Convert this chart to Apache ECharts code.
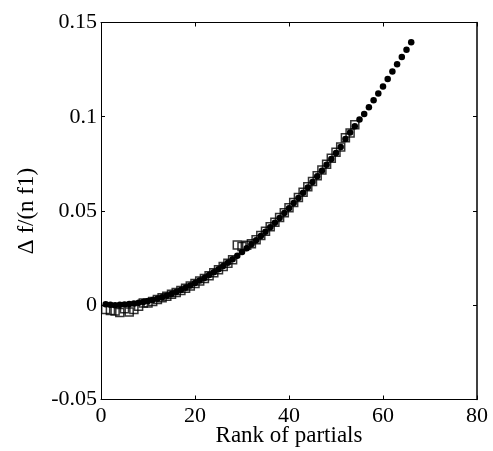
<!DOCTYPE html>
<html>
<head>
<meta charset="utf-8">
<script src="https://cdn.jsdelivr.net/npm/echarts@6/dist/echarts.min.js"></script>
<style>html,body{margin:0;padding:0;background:#fff;}#c{width:493px;height:451px;}</style>
</head>
<body>
<div id="c"></div>
<script>
var xTickLabels = ['0', '20', '40', '60', '80'];
var yTickLabels = ['-0.05', '0', '0.05', '0.1', '0.15'];
var dotRanks = [1,2,3,4,5,6,7,8,9,10,11,12,13,14,15,16,17,18,19,20,21,22,23,24,25,26,27,28,29,30,31,32,33,34,35,36,37,38,39,40,41,42,43,44,45,46,47,48,49,50,51,52,53,54,55,56,57,58,59,60,61,62,63,64,65,66];
var dotValues = [0.0005,0.0002,0.0000,0.0002,0.0004,0.0006,0.0009,0.0013,0.0017,0.0022,
0.0028,0.0035,0.0043,0.0051,0.0060,0.0070,0.0081,0.0093,0.0105,0.0118,
0.0131,0.0145,0.0160,0.0175,0.0191,0.0208,0.0226,0.0244,0.0263,0.0282,
0.0302,0.0323,0.0345,0.0367,0.0390,0.0414,0.0438,0.0463,0.0489,0.0515,
0.0542,0.0569,0.0597,0.0625,0.0654,0.0684,0.0714,0.0745,0.0776,0.0808,
0.0840,0.0882,0.0916,0.0950,0.0985,0.1015,0.1050,0.1087,0.1123,0.1160,
0.1200,0.1240,0.1278,0.1317,0.1356,0.1395];
var squareRanks = [1,2,3,4,5,6,7,8,9,10,11,12,13,14,15,16,17,18,19,20,21,22,23,24,25,26,27,28,29,30,31,32,33,34,35,36,37,38,39,40,41,42,43,44,45,46,47,48,49,50,51,52,53,54];
var squareValues = [-0.0022,-0.0028,-0.0030,-0.0038,-0.0018,-0.0036,-0.0022,-0.0005,0.0012,0.0012,
0.0020,0.0030,0.0040,0.0048,0.0058,0.0068,0.0078,0.0090,0.0102,0.0115,
0.0128,0.0142,0.0157,0.0172,0.0188,0.0205,0.0223,0.0242,0.0320,0.0312,
0.0318,0.0326,0.0347,0.0370,0.0393,0.0416,0.0440,0.0465,0.0491,0.0517,
0.0545,0.0572,0.0600,0.0628,0.0657,0.0687,0.0717,0.0748,0.0780,0.0812,
0.0840,0.0888,0.0914,0.0957];

function pairs(xs, ys){ return xs.map(function(x,i){ return [x, ys[i]]; }); }

var font = 'Liberation Serif';
var chart = echarts.init(document.getElementById('c'), null, {renderer:'canvas'});
var axisLine = {show:true, onZero:false, lineStyle:{color:'#000', width:1}};
var tick = {show:true, inside:true, length:4, lineStyle:{color:'#000', width:1}};
chart.setOption({
  animation:false,
  backgroundColor:'#fff',
  grid:{left:101, right:16, top:22.5, bottom:51.5, containLabel:false, outerBoundsMode:'none'},
  xAxis:[{
    type:'value', min:0, max:80, interval:20, position:'bottom',
    name:'Rank of partials', nameLocation:'middle', nameGap:25, nameMoveOverlap:false,
    nameTextStyle:{fontFamily:font, fontSize:23, color:'#000'},
    axisLine:axisLine, axisTick:tick, splitLine:{show:false},
    axisLabel:{fontFamily:font, fontSize:22, color:'#000', margin:6,
      formatter:function(v){ return xTickLabels[Math.round(v/20)]; }}
  },{
    type:'value', min:0, max:80, interval:20, position:'top',
    axisLine:axisLine, axisTick:tick, axisLabel:{show:false}, splitLine:{show:false}
  }],
  yAxis:[{
    type:'value', min:-0.05, max:0.15, interval:0.05, position:'left',
    name:'\u0394 f/(n f1)', nameLocation:'middle', nameGap:63, nameRotate:90, nameMoveOverlap:false,
    nameTextStyle:{fontFamily:font, fontSize:23, color:'#000'},
    axisLine:axisLine, axisTick:tick, splitLine:{show:false},
    axisLabel:{fontFamily:font, fontSize:22, color:'#000', margin:4,
      formatter:function(v){ return yTickLabels[Math.round((v+0.05)/0.05)]; }}
  },{
    type:'value', min:-0.05, max:0.15, interval:0.05, position:'right',
    axisLine:{show:true, onZero:false, lineStyle:{color:'#000', width:1.5}}, axisTick:tick, axisLabel:{show:false}, splitLine:{show:false}
  }],
  series:[{
    type:'scatter', xAxisIndex:0, yAxisIndex:0,
    symbol:'rect', symbolSize:8,
    itemStyle:{color:'rgba(0,0,0,0)', borderColor:'#000', borderWidth:1.5},
    data:pairs(squareRanks, squareValues), z:2
  },{
    type:'scatter', xAxisIndex:0, yAxisIndex:0,
    symbol:'circle', symbolSize:6.5,
    itemStyle:{color:'#000', opacity:1},
    data:pairs(dotRanks, dotValues), z:3
  }]
});
</script>
</body>
</html>
